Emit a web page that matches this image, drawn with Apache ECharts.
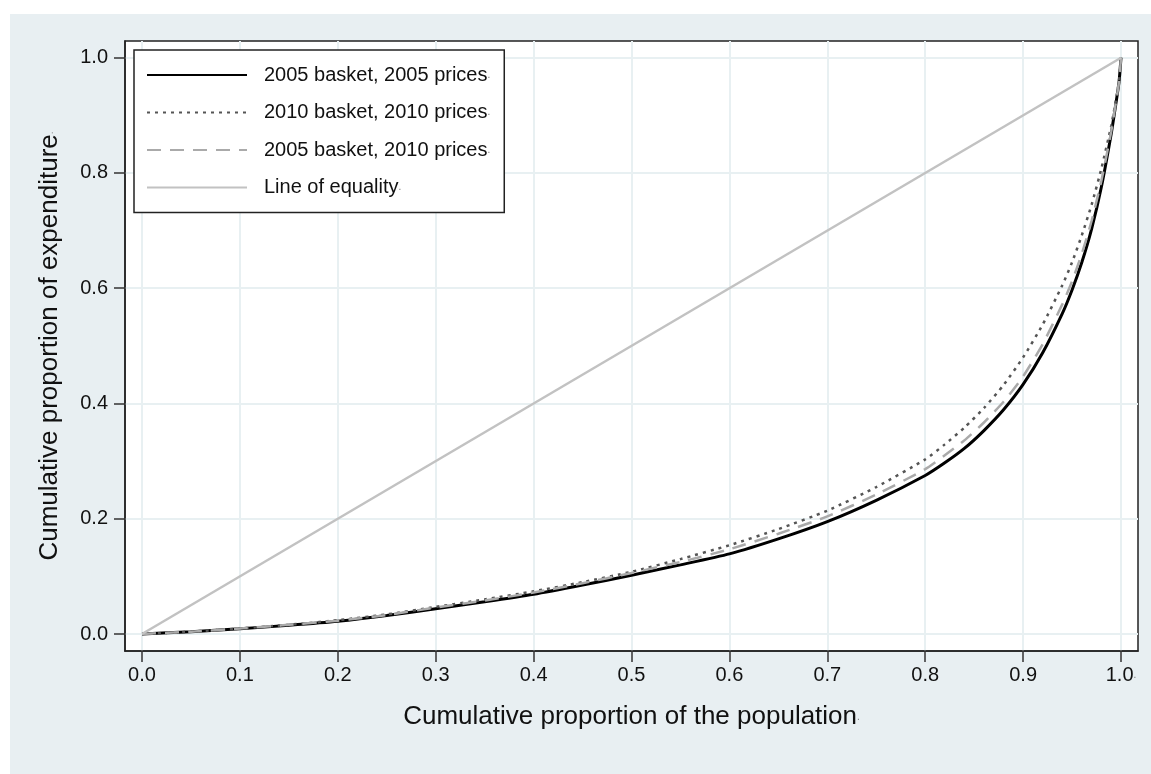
<!DOCTYPE html>
<html>
<head>
    <meta charset="utf-8">
    <title>Lorenz curves</title>
    <script src="https://cdn.jsdelivr.net/npm/echarts@6/dist/echarts.min.js"></script>
    <style>
        html, body { margin: 0; padding: 0; background: #fff; }
        #chart-container {
            position: absolute;
            left: 10px;
            top: 14px;
            width: 1141px;
            height: 760px;
        }
    </style>
</head>
<body>
<div id="chart-container"></div>

<script>
    // population share (x) shared by the three curves
    var popShare = [0, 0.05, 0.1, 0.15, 0.2, 0.25, 0.3, 0.35, 0.4, 0.45, 0.5, 0.55, 0.6, 0.65, 0.7, 0.75,
        0.8, 0.82, 0.84, 0.86, 0.88, 0.9, 0.92, 0.94, 0.95, 0.96, 0.97, 0.98, 0.99, 0.995, 0.998, 1];

    // cumulative expenditure share
    var b2005p2005 = [0, 0.004, 0.009, 0.015, 0.022, 0.032, 0.044, 0.056, 0.069, 0.085, 0.102, 0.12, 0.139, 0.165, 0.195, 0.232,
        0.275, 0.297, 0.322, 0.353, 0.389, 0.433, 0.488, 0.556, 0.597, 0.645, 0.703, 0.776, 0.868, 0.923, 0.958, 1];
    var b2010p2010 = [0, 0.004, 0.0095, 0.016, 0.024, 0.034, 0.047, 0.06, 0.074, 0.09, 0.108, 0.13, 0.154, 0.182, 0.214, 0.255,
        0.303, 0.329, 0.358, 0.392, 0.432, 0.48, 0.537, 0.605, 0.645, 0.692, 0.745, 0.808, 0.882, 0.928, 0.96, 1];
    var b2005p2010 = [0, 0.004, 0.0095, 0.016, 0.023, 0.033, 0.046, 0.058, 0.072, 0.088, 0.106, 0.125, 0.147, 0.174, 0.204, 0.242,
        0.286, 0.31, 0.336, 0.367, 0.403, 0.447, 0.503, 0.572, 0.612, 0.66, 0.717, 0.787, 0.872, 0.925, 0.958, 1];

    var equalityX = [0, 1];
    var equalityY = [0, 1];

    var seriesNames = ['2005 basket, 2005 prices', '2010 basket, 2010 prices', '2005 basket, 2010 prices', 'Line of equality'];
    var xTicks = [0, 0.1, 0.2, 0.3, 0.4, 0.5, 0.6, 0.7, 0.8, 0.9, 1];
    var yTicks = [0, 0.2, 0.4, 0.6, 0.8, 1];

    function pairs(xs, ys) {
        return xs.map(function (x, i) { return [x, ys[i]]; });
    }

    var font = '"Liberation Sans", Arial, sans-serif';
    // Stata leaves a tiny grey full stop after each text
    var dotStyle = { fontSize: 10, color: '#777', fontFamily: font };

    var myChart = echarts.init(document.getElementById('chart-container'));

    var option = {
        backgroundColor: '#e8eff2',
        animation: false,
        textStyle: { fontFamily: font },
        grid: {
            left: 115,
            top: 27,
            width: 1013,
            height: 610,
            show: true,
            backgroundColor: '#fff',
            borderColor: '#222',
            borderWidth: 1.5
        },
        legend: {
            orient: 'vertical',
            left: 124,
            top: 36,
            padding: [15, 14, 15, 12],
            itemWidth: 100,
            itemHeight: 20,
            itemGap: 17.5,
            backgroundColor: '#fff',
            borderColor: '#222',
            borderWidth: 1.5,
            borderRadius: 0,
            itemStyle: { opacity: 0 },
            data: seriesNames,
            formatter: function (name) { return name + '{d|.}'; },
            textStyle: {
                fontSize: 20,
                lineHeight: 20,
                color: '#111',
                padding: [0, 0, 0, 12],
                rich: { d: dotStyle }
            }
        },
        xAxis: {
            type: 'value',
            min: -0.01736,
            max: 1.01736,
            name: 'Cumulative proportion of the population{d|.}',
            nameLocation: 'middle',
            nameGap: 53,
            nameTextStyle: { fontSize: 26, color: '#111', rich: { d: dotStyle } },
            axisLine: { show: true, onZero: false, lineStyle: { color: '#222', width: 1.5 } },
            axisTick: { show: true, length: 11, customValues: xTicks, lineStyle: { color: '#333', width: 1.5 } },
            axisLabel: {
                customValues: xTicks,
                margin: 14,
                fontSize: 20,
                color: '#111',
                formatter: function (v) { return v === 1 ? v.toFixed(1) + '{d|.}' : v.toFixed(1); },
                rich: { d: dotStyle }
            },
            splitLine: { show: true, lineStyle: { color: '#e8f0f2', width: 2 } }
        },
        yAxis: {
            type: 'value',
            min: -0.0295,
            max: 1.029,
            name: 'Cumulative proportion of expenditure{d|.}',
            nameLocation: 'middle',
            nameGap: 62,
            nameTextStyle: { fontSize: 26, color: '#111', rich: { d: dotStyle } },
            axisLine: { show: true, onZero: false, lineStyle: { color: '#222', width: 1.5 } },
            axisTick: { show: true, length: 11, customValues: yTicks, lineStyle: { color: '#333', width: 1.5 } },
            axisLabel: {
                customValues: yTicks,
                margin: 17,
                fontSize: 20,
                color: '#111',
                formatter: function (v) { return v.toFixed(1); }
            },
            splitLine: { show: true, lineStyle: { color: '#e8f0f2', width: 2 } }
        },
        series: [
            {
                name: seriesNames[0],
                type: 'line',
                symbol: 'none',
                smooth: 0.2,
                data: pairs(popShare, b2005p2005),
                lineStyle: { color: '#000', width: 3 },
                itemStyle: { color: '#000' }
            },
            {
                name: seriesNames[1],
                type: 'line',
                symbol: 'none',
                smooth: 0.2,
                data: pairs(popShare, b2010p2010),
                lineStyle: { color: '#555', width: 2.5, type: [3, 5] },
                itemStyle: { color: '#555' }
            },
            {
                name: seriesNames[2],
                type: 'line',
                symbol: 'none',
                smooth: 0.2,
                data: pairs(popShare, b2005p2010),
                lineStyle: { color: '#aaa', width: 2.5, type: [14, 9] },
                itemStyle: { color: '#aaa' }
            },
            {
                name: seriesNames[3],
                type: 'line',
                symbol: 'none',
                data: pairs(equalityX, equalityY),
                lineStyle: { color: '#c2c2c2', width: 2.5 },
                itemStyle: { color: '#c2c2c2' }
            }
        ]
    };

    myChart.setOption(option);
</script>
</body>
</html>
